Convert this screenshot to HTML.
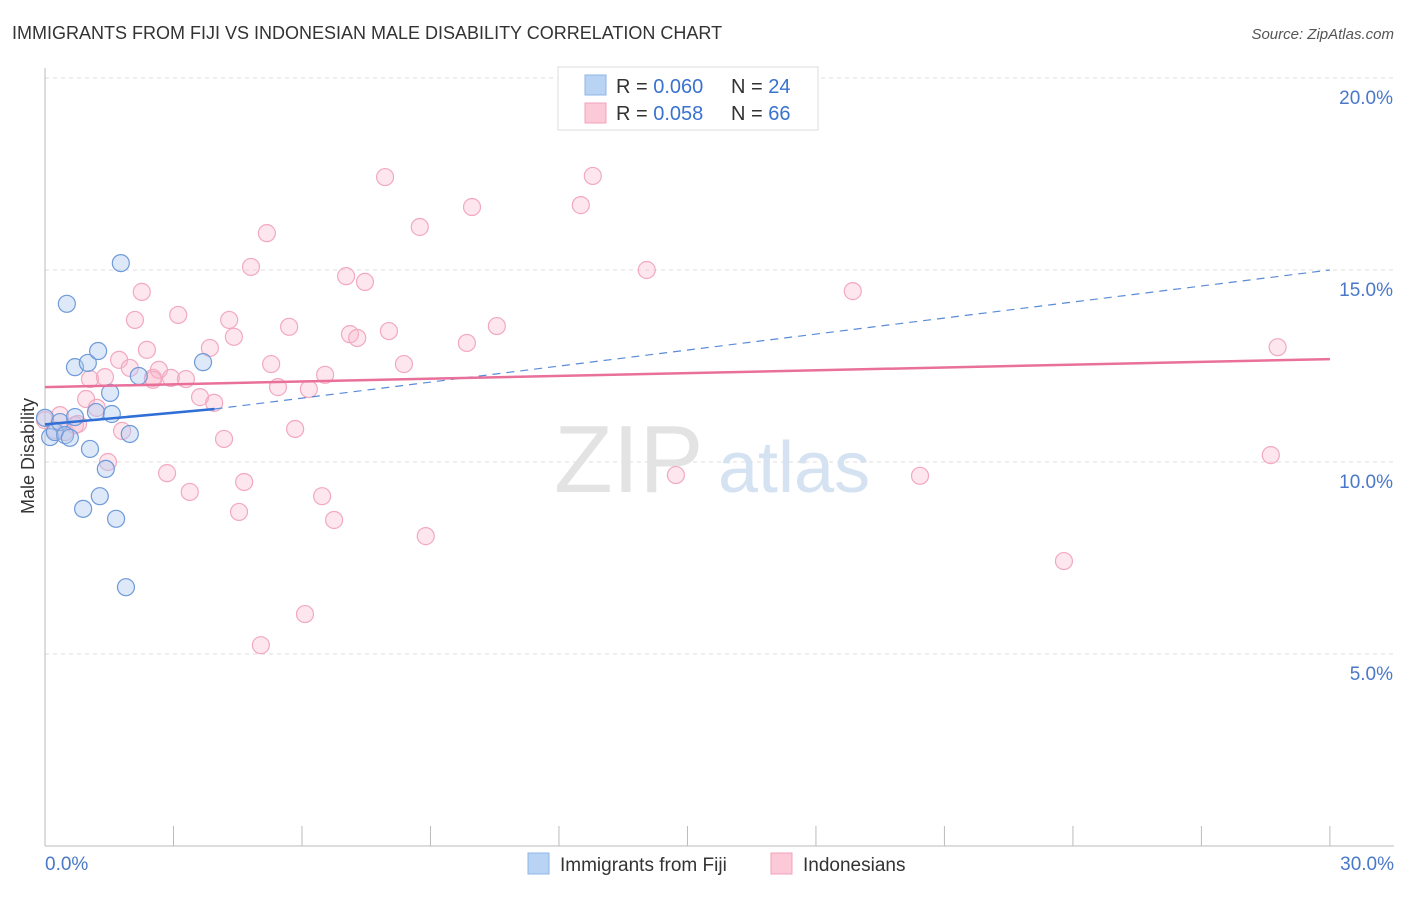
<!DOCTYPE html>
<html><head><meta charset="utf-8"><style>
body{margin:0;background:#fff;font-family:"Liberation Sans",sans-serif;}
svg text{font-family:"Liberation Sans",sans-serif;}
</style></head><body>
<svg id="chart" width="1406" height="892">
<text x="12" y="39" font-size="18" fill="#333">IMMIGRANTS FROM FIJI VS INDONESIAN MALE DISABILITY CORRELATION CHART</text>
<text x="1394" y="39" font-size="15" fill="#555" font-style="italic" text-anchor="end">Source: ZipAtlas.com</text>
<g id="grid"></g>
<g id="axes"></g>
<text x="554" y="492" font-size="96" fill="#e3e3e3" font-family="Liberation Serif">ZIP</text>
<text x="718" y="492" font-size="72" fill="#d5e2f2">atlas</text>
<g id="marks"></g>
<text transform="translate(34,456) rotate(-90)" font-size="18" fill="#333" text-anchor="middle">Male Disability</text>
<g>
<rect x="558" y="67" width="260" height="63" fill="#fff" stroke="#ddd"/>
<rect x="585" y="75" width="21" height="20" fill="#b9d3f5" stroke="#8fb5e8"/>
<rect x="585" y="103" width="21" height="20" fill="#fbc9d7" stroke="#f0a3bb"/>
<text x="616" y="93" font-size="20" fill="#333">R = <tspan fill="#3a72d0">0.060</tspan></text>
<text x="731" y="93" font-size="20" fill="#333">N = <tspan fill="#3a72d0">24</tspan></text>
<text x="616" y="120" font-size="20" fill="#333">R = <tspan fill="#3a72d0">0.058</tspan></text>
<text x="731" y="120" font-size="20" fill="#333">N = <tspan fill="#3a72d0">66</tspan></text>
</g>
<g>
<rect x="528" y="853" width="21" height="21" fill="#b9d3f5" stroke="#8fb5e8"/>
<text x="560" y="871" font-size="19" fill="#333">Immigrants from Fiji</text>
<rect x="771" y="853" width="21" height="21" fill="#fbc9d7" stroke="#f0a3bb"/>
<text x="803" y="871" font-size="19" fill="#333">Indonesians</text>
</g>
</svg>
<script>
const yTicks=[5,10,15,20];
const yTickLabels=["5.0%","10.0%","15.0%","20.0%"];
const xTickLabels=["0.0%","30.0%"];
const fijiX=[0,0.12,0.23,0.35,0.47,0.58,0.7,0.51,0.7,1.0,1.05,1.24,1.19,1.28,1.42,1.52,1.56,1.66,0.89,1.77,1.89,1.98,2.19,3.69];
const fijiY=[11.15,10.65,10.78,11.04,10.7,10.63,11.17,14.12,12.47,12.58,10.34,12.89,11.3,9.11,9.82,11.8,11.25,8.52,8.78,15.18,6.74,10.73,12.24,12.6];
const indoX=[0,0.23,0.35,0.47,0.7,0.77,0.96,1.05,1.21,1.4,1.47,1.73,1.8,1.98,2.1,2.26,2.38,2.52,2.66,2.85,2.94,3.11,3.29,3.38,3.62,3.85,3.95,4.18,4.3,4.41,4.53,4.65,4.81,5.18,5.28,5.44,5.7,5.84,6.07,6.16,6.47,6.54,6.75,7.03,7.12,7.29,7.47,7.94,8.03,8.38,8.75,8.89,9.85,9.97,10.55,12.51,12.79,14.05,14.73,18.86,20.43,23.79,28.62,28.78,5.04,2.52];
const indoY=[11.09,10.83,11.22,10.78,10.96,10.99,11.64,12.16,11.41,12.21,10.0,12.66,10.81,12.45,13.7,14.43,12.92,12.19,12.4,9.71,12.19,13.83,12.16,9.22,11.69,12.97,11.54,10.6,13.7,13.26,8.7,9.48,15.08,15.96,12.55,11.95,13.52,10.86,6.04,11.9,9.11,12.27,8.49,14.84,13.33,13.23,14.69,17.42,13.41,12.55,16.12,8.07,13.1,16.64,13.54,16.69,17.45,15.0,9.66,14.45,9.64,7.42,10.18,12.99,5.23,12.14];
const fijiTrend=[[0,10.98],[3.96,11.38]];
const fijiDash=[[3.96,11.38],[30,15.0]];
const indoTrend=[[0,11.95],[30,12.68]];
const NS="http://www.w3.org/2000/svg";
const X=v=>45+v*42.83, Y=v=>846-v*38.4;
function el(tag,attrs,parent){const e=document.createElementNS(NS,tag);for(const k in attrs)e.setAttribute(k,attrs[k]);parent.appendChild(e);return e;}
const grid=document.getElementById('grid'),axes=document.getElementById('axes'),marks=document.getElementById('marks');
yTicks.forEach((t,i)=>{
 const l=el('line',{x1:45,x2:1394,y1:Y(t),y2:Y(t),stroke:'#ddd','stroke-dasharray':'4,4'},grid);
 
 
 const tx=el('text',{x:1393,y:Y(t)+26,'font-size':19,fill:'#4a78c8','text-anchor':'end'},axes);tx.textContent=yTickLabels[i];
 
 
});
el('line',{x1:45,x2:45,y1:68,y2:846,stroke:'#bbb'},axes);
el('line',{x1:45,x2:1394,y1:846,y2:846,stroke:'#bbb'},axes);
for(let i=0;i<=10;i++){el('line',{x1:X(i*3),x2:X(i*3),y1:826,y2:846,stroke:'#bbb'},axes);}
[[0,'start',45],[1,'end',1394]].forEach(([i,a,x])=>{const t=el('text',{x:x,y:870,'font-size':19,fill:'#4a78c8','text-anchor':a},axes);t.textContent=xTickLabels[i];
 
 });
indoX.forEach((v,i)=>{const c=el('circle',{cx:X(v),cy:Y(indoY[i]),r:8.5,fill:'rgba(249,182,203,0.35)',stroke:'#f2a9c0','stroke-width':1.2},marks);
 
 });
fijiX.forEach((v,i)=>{const c=el('circle',{cx:X(v),cy:Y(fijiY[i]),r:8.5,fill:'rgba(170,200,240,0.4)',stroke:'#6f9ad8','stroke-width':1.2},marks);
 
 });
const d=el('line',{x1:X(fijiDash[0][0]),y1:Y(fijiDash[0][1]),x2:X(fijiDash[1][0]),y2:Y(fijiDash[1][1]),stroke:'#5a8ad8','stroke-width':1.2,'stroke-dasharray':'8,6'},marks);


const b=el('line',{x1:X(fijiTrend[0][0]),y1:Y(fijiTrend[0][1]),x2:X(fijiTrend[1][0]),y2:Y(fijiTrend[1][1]),stroke:'#2f6fd6','stroke-width':2.5},marks);


const p=el('line',{x1:X(indoTrend[0][0]),y1:Y(indoTrend[0][1]),x2:X(indoTrend[1][0]),y2:Y(indoTrend[1][1]),stroke:'#e8709a','stroke-width':2.5},marks);


</script>
</body></html>
